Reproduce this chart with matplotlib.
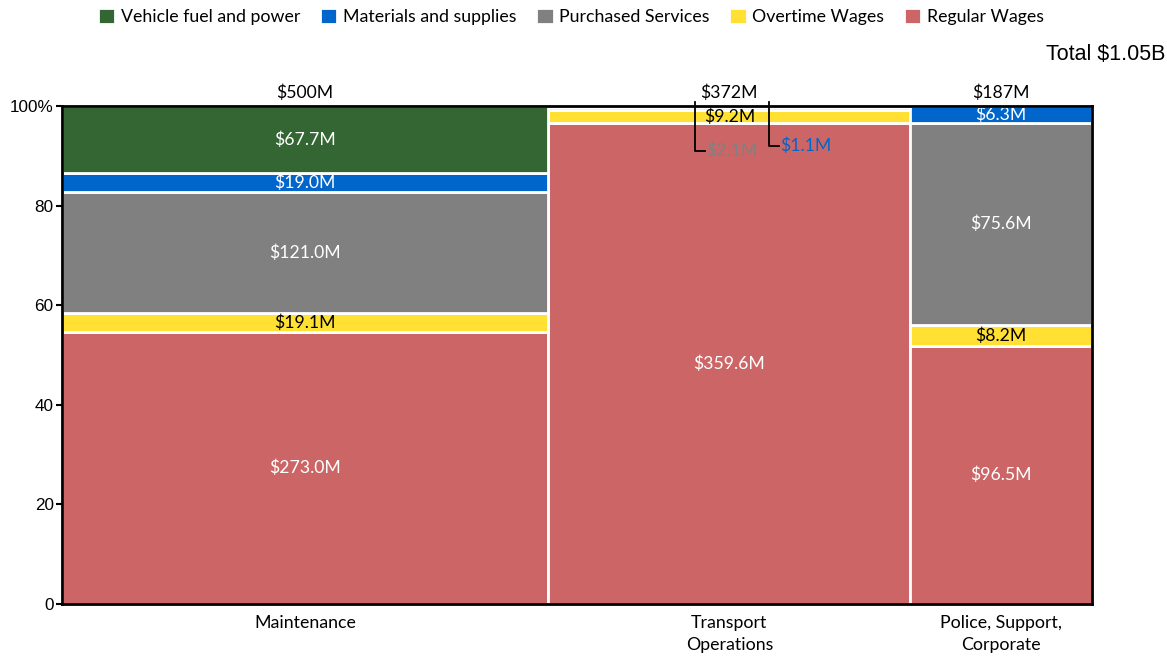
import matplotlib.pyplot as plt
import numpy as np

# Spending by department, $M
departments = ['Maintenance', 'Transport\nOperations', 'Police, Support,\nCorporate']
dept_totals = ['$500M', '$372M', '$187M']
series = ['Regular Wages', 'Overtime Wages', 'Purchased Services',
          'Materials and supplies', 'Vehicle fuel and power']
regular_wages = [273.0, 359.6, 96.5]
overtime_wages = [19.1, 9.2, 8.2]
purchased_services = [121.0, 2.1, 75.6]
materials_supplies = [19.0, 1.1, 6.3]
vehicle_fuel = [67.7, 0.0, 0.0]
total_label = 'Total $1.05B'

colors = ['#CC6666', '#FFE033', '#808080', '#0066CC', '#336633']
text_colors = ['white', 'black', 'white', 'white', 'white']

values = np.array([regular_wages, overtime_wages, purchased_services,
                   materials_supplies, vehicle_fuel])
totals = values.sum(axis=0)
widths = totals
lefts = np.concatenate([[0], np.cumsum(widths)[:-1]])
centers = lefts + widths / 2
pct = values / totals * 100

fig = plt.figure(figsize=(11.67, 6.57), dpi=100)
ax = fig.add_axes([0.0531, 0.0807, 0.8826, 0.758])

bottoms = np.zeros(len(departments))
bars = []
for i, name in enumerate(series):
    b = ax.bar(lefts, pct[i], width=widths, bottom=bottoms, align='edge',
               color=colors[i], edgecolor='white', linewidth=2, label=name)
    bars.append(b)
    for j in range(len(departments)):
        v = values[i, j]
        if v <= 0:
            continue
        y = bottoms[j] + pct[i, j] / 2
        if pct[i, j] >= 1.5:
            ax.text(centers[j], y, f'${v:.1f}M', ha='center', va='center',
                    color=text_colors[i], fontsize=12.7, family='Lato')
    bottoms = bottoms + pct[i]

# small Transport segments with leader lines
j = 1
for i, dx, ly in [(2, -35, 91), (3, 41, 92)]:
    x0 = centers[j] + dx
    ax.plot([x0, x0, x0 + 10], [100.7, ly, ly], color='black', lw=1.3,
            clip_on=False, zorder=5)
    ax.text(x0 + 11, ly, f'${values[i, j]:.1f}M', ha='left', va='center',
            color=colors[i], fontsize=12.7, family='Lato')

for j in range(len(departments)):
    ax.text(centers[j], 101.0, dept_totals[j], ha='center', va='bottom',
            fontsize=12.7, family='Lato')

ax.text(1.0709, 1.104, total_label, transform=ax.transAxes, ha='right',
        va='center', fontsize=15.5, family='Liberation Sans')

ax.set_xlim(0, totals.sum())
ax.set_ylim(0, 100)
ax.set_xticks(centers)
ax.set_xticklabels(departments, fontsize=12.8, family='Lato',
                   linespacing=1.45, va='top')
ax.tick_params(axis='x', length=0, pad=8)
ax.set_yticks([0, 20, 40, 60, 80, 100])
ax.set_yticklabels(['0', '20', '40', '60', '80', '100%'], fontsize=12.3,
                   family='Liberation Sans')
ax.tick_params(axis='y', length=4, width=1.5, pad=2)
for s in ax.spines.values():
    s.set_linewidth(2)
    s.set_zorder(6)

handles = [bars[4], bars[3], bars[2], bars[1], bars[0]]
fig.legend(handles, [series[4], series[3], series[2], series[1], series[0]],
           loc='upper center', bbox_to_anchor=(0.489, 1.012), ncol=5,
           frameon=False, prop={'family': 'Lato', 'size': 12.8},
           handlelength=1.0, handleheight=1.0, handletextpad=0.3,
           columnspacing=1.1)

fig.savefig('out.png', dpi=100)
